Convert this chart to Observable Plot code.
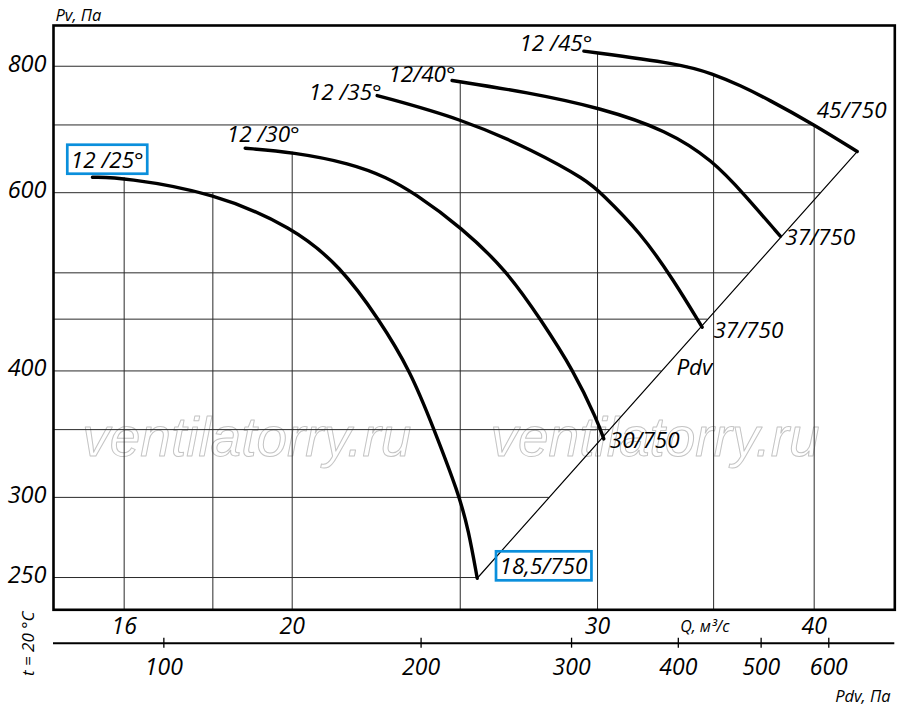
<!DOCTYPE html>
<html>
<head>
<meta charset="utf-8">
<script src="https://cdn.jsdelivr.net/npm/d3@7"></script>
<script src="https://cdn.jsdelivr.net/npm/@observablehq/plot@0.6"></script>
<style>
  html, body { margin: 0; padding: 0; background: #fff; }
  #chart { width: 900px; height: 717px; }
</style>
</head>
<body>
<div id="chart"></div>
<script>
// Fan curves, Pv vs Q on log-log axes, with a second Pdv scale under the Q axis.

// ---- data ----
const curveNames = ["12 /25°", "12 /30°", "12 /35°", "12/40°", "12 /45°"];
const endNames = ["18,5/750", "30/750", "37/750", "37/750", "45/750"];

const q25 = [15.34, 16.0, 18.01, 20.02, 21.33, 22.44, 23.40, 24.14, 24.95, 25.28, 25.57];
const p25 = [621.5, 620.7, 600, 554.6, 507.2, 450, 400, 350.6, 302.4, 278.2, 249.6];

const q30 = [18.79, 20.02, 21.61, 22.69, 23.50, 25.04, 26.61, 27.81, 29.07, 29.99, 30.25];
const p30 = [663.9, 657.9, 641.5, 621.0, 600, 554.6, 501.8, 450, 400, 357.3, 342.7];

const q35 = [22.39, 25.06, 27.56, 29.59, 30.12, 31.76, 33.20, 34.47];
const p35 = [748.4, 709.8, 660.4, 616.9, 600, 548.3, 491.3, 441.8];

const q40 = [24.73, 27.33, 30.12, 32.91, 34.96, 36.43, 38.24];
const p40 = [774.4, 754.0, 727.8, 691.2, 645.6, 598.4, 543.6];

const q45 = [29.46, 33.49, 34.96, 36.27, 37.58, 39.98, 42.35];
const p45 = [827.9, 804.4, 786.3, 765.6, 742.9, 700.7, 658.9];

const qTicks = [16, 20, 30, 40];
const pTicks = [250, 300, 400, 600, 800];
const qGrid = [16, 18, 20, 25, 30, 35, 40];
const pGrid = [250, 300, 350, 400, 450, 500, 600, 700, 800];
const pdvTicks = [100, 200, 300, 400, 500, 600];
const boxedLabels = ["12 /25°", "18,5/750"];

// ---- layout (pixels) ----
const startOffsets = [[51.3, -16.7], [54.5, -13.5], [4.5, -2.5], [3.5, -5.3], [8.5, -7.5]];
const endOffsets = [[22.3, -11.1], [6, 2.2], [11.3, 3.3], [5, 2], [-40.5, -40.5]];
const xDomain = [14.567, 44.52];
const yDomain = [232.3, 877.7];
const font = "'Open Sans', 'Noto Sans', sans-serif";
const blue = "#0a8fdc";

// Pdv scale drawn against the Q axis: Q = 16.866 * (Pdv/100)^0.4928
const pdvToQ = p => 16.866 * Math.pow(p / 100, 0.4928);
const qToPdv = q => 100 * Math.pow(q / 16.866, 1 / 0.4928);

// ---- build rows ----
const series = [[q25, p25], [q30, p30], [q35, p35], [q40, p40], [q45, p45]];
const curves = series.map(function ([qs, ps], i) {
  return { i: i, pts: qs.map((q, j) => ({ q: q, p: ps[j], curve: i })) };
});
const linePts = curves.flatMap(c => c.pts);
const starts = curves.map(c => Object.assign({ i: c.i }, c.pts[0]));
const ends = curves.map(c => Object.assign({ i: c.i }, c.pts[c.pts.length - 1]));
const diag = [ends[0], ends[ends.length - 1]];

const L = Math.log10;
function interpAtQ(pts, q) {
  for (let j = 0; j < pts.length - 1; j++) {
    const a = pts[j], b = pts[j + 1];
    if (q >= a.q && q <= b.q) {
      const t = (L(q) - L(a.q)) / (L(b.q) - L(a.q));
      return Math.pow(10, L(a.p) + t * (L(b.p) - L(a.p)));
    }
  }
  return null;
}
function crossAtP(pts, p) {
  for (let j = 0; j < pts.length - 1; j++) {
    const a = pts[j], b = pts[j + 1];
    if (p <= a.p && p >= b.p) {
      const t = (L(p) - L(a.p)) / (L(b.p) - L(a.p));
      return Math.pow(10, L(a.q) + t * (L(b.q) - L(a.q)));
    }
  }
  return null;
}
function diagQ(p) {
  const a = diag[0], b = diag[1];
  const t = (L(p) - L(a.p)) / (L(b.p) - L(a.p));
  return Math.pow(10, L(a.q) + t * (L(b.q) - L(a.q)));
}
// grid lines stop at the envelope of the curves and the Pdv line
function topAt(q) {
  const v = curves.map(c => interpAtQ(c.pts, q)).filter(d => d != null);
  return v.length ? Math.max(...v) : yDomain[1];
}
function rightAt(p) {
  const v = curves.map(c => crossAtP(c.pts, p)).filter(d => d != null);
  if (p <= diag[1].p) v.push(diagQ(p));
  return v.length ? Math.max(...v) : xDomain[1];
}

const italic = { fontStyle: "italic", fontFamily: font, fill: "black" };
const watermark = {
  text: d => d, frameAnchor: "bottom-left", dy: -154.3,
  textAnchor: "start", lineAnchor: "bottom", fontSize: 55,
  fontFamily: "'Liberation Sans', Arial, sans-serif", fontStyle: "italic",
  fill: "none", stroke: "#c4c4c4", strokeWidth: 1
};

const marks = [
  // watermark
  Plot.text(["ventilatorry.ru"], Object.assign({ dx: 28.7 }, watermark)),
  Plot.text(["ventilatorry.ru"], Object.assign({ dx: 437 }, watermark)),
  // grid
  Plot.ruleX(qGrid, { x: d => d, y1: d => topAt(d), y2: () => yDomain[0], stroke: "#2a2a2a", strokeWidth: 1 }),
  Plot.ruleY(pGrid, { y: d => d, x1: () => xDomain[0], x2: d => rightAt(d), stroke: "#2a2a2a", strokeWidth: 1 }),
  // Pdv line through the curve ends
  Plot.line(diag, { x: "q", y: "p", stroke: "black", strokeWidth: 1.2 }),
  // fan curves
  Plot.line(linePts, { x: "q", y: "p", z: "curve", stroke: "black", strokeWidth: 3.4, curve: "basis" }),
  Plot.frame({ stroke: "black", strokeWidth: 2.6 }),
  // axes
  Plot.axisY(pTicks, {
    anchor: "left", tickSize: 0, tickPadding: 7, dy: -2, label: null,
    tickFormat: d => String(d), fontSize: 23.5, fontStyle: "italic", fontFamily: font
  }),
  Plot.axisX(qTicks, {
    anchor: "bottom", tickSize: 0, tickPadding: 7.5, label: null,
    tickFormat: d => String(d), fontSize: 23, fontStyle: "italic", fontFamily: font
  }),
  Plot.ruleY([yDomain[0]], { dy: 33.4, stroke: "black", strokeWidth: 2 }),
  Plot.axisX(pdvTicks.map(pdvToQ), {
    anchor: "bottom", tickSize: 10, tickPadding: 10, dy: 28.4, label: null, strokeWidth: 1.3,
    tickFormat: q => String(Math.round(qToPdv(q))), fontSize: 23, fontStyle: "italic", fontFamily: font
  }),
  // axis titles
  Plot.text(["Pv, Па"], Object.assign({ text: d => d, frameAnchor: "top-left", dx: 2, dy: -5, textAnchor: "start", lineAnchor: "bottom", fontSize: 16.5 }, italic)),
  Plot.text(["Q, м³/с"], Object.assign({ text: d => d, frameAnchor: "bottom-right", dx: -190, dy: 22, textAnchor: "middle", lineAnchor: "bottom", fontSize: 16 }, italic)),
  Plot.text(["Pdv, Па"], Object.assign({ text: d => d, frameAnchor: "bottom-right", dx: -4.3, dy: 92, textAnchor: "end", lineAnchor: "bottom", fontSize: 16.5 }, italic)),
  Plot.text(["t = 20 °C"], Object.assign({ text: d => d, frameAnchor: "bottom-left", dx: -20, dy: 34, rotate: -90, textAnchor: "middle", lineAnchor: "bottom", fontSize: 17 }, italic)),
  Plot.text([ends[2]], Object.assign({ x: "q", y: "p", text: () => "Pdv", dx: -7.7, dy: 40.3, textAnchor: "middle", lineAnchor: "middle", fontSize: 22.5 }, italic))
];

// curve names at the left end, impeller/speed at the right end
starts.forEach(function (d, i) {
  marks.push(Plot.text([d], Object.assign({
    x: "q", y: "p", text: () => curveNames[i], textAnchor: "end", lineAnchor: "middle",
    dx: startOffsets[i][0], dy: startOffsets[i][1], fontSize: 22.5
  }, italic)));
});
ends.forEach(function (d, i) {
  marks.push(Plot.text([d], Object.assign({
    x: "q", y: "p", text: () => endNames[i], textAnchor: "start", lineAnchor: "middle",
    dx: endOffsets[i][0], dy: endOffsets[i][1], fontSize: 22.5
  }, italic)));
});

const svg = Plot.plot({
  width: 900,
  height: 717,
  marginLeft: 53,
  marginRight: 5.7,
  marginTop: 25,
  marginBottom: 107.7,
  style: { background: "white", color: "black", fontFamily: font, overflow: "visible" },
  x: { type: "log", domain: xDomain, axis: null },
  y: { type: "log", domain: yDomain, axis: null },
  marks: marks
});

document.getElementById("chart").appendChild(svg);

// blue frames round two of the labels
const box = svg.getBoundingClientRect();
d3.select(svg).selectAll("text").each(function () {
  if (boxedLabels.indexOf(this.textContent) < 0) return;
  const r = this.getBoundingClientRect();
  d3.select(svg).append("rect")
    .attr("x", r.left - box.left - 3.5)
    .attr("y", r.top - box.top + 1)
    .attr("width", r.width + 7)
    .attr("height", r.height - 2)
    .attr("fill", "none")
    .attr("stroke", blue)
    .attr("stroke-width", 2.7);
});
</script>
</body>
</html>
